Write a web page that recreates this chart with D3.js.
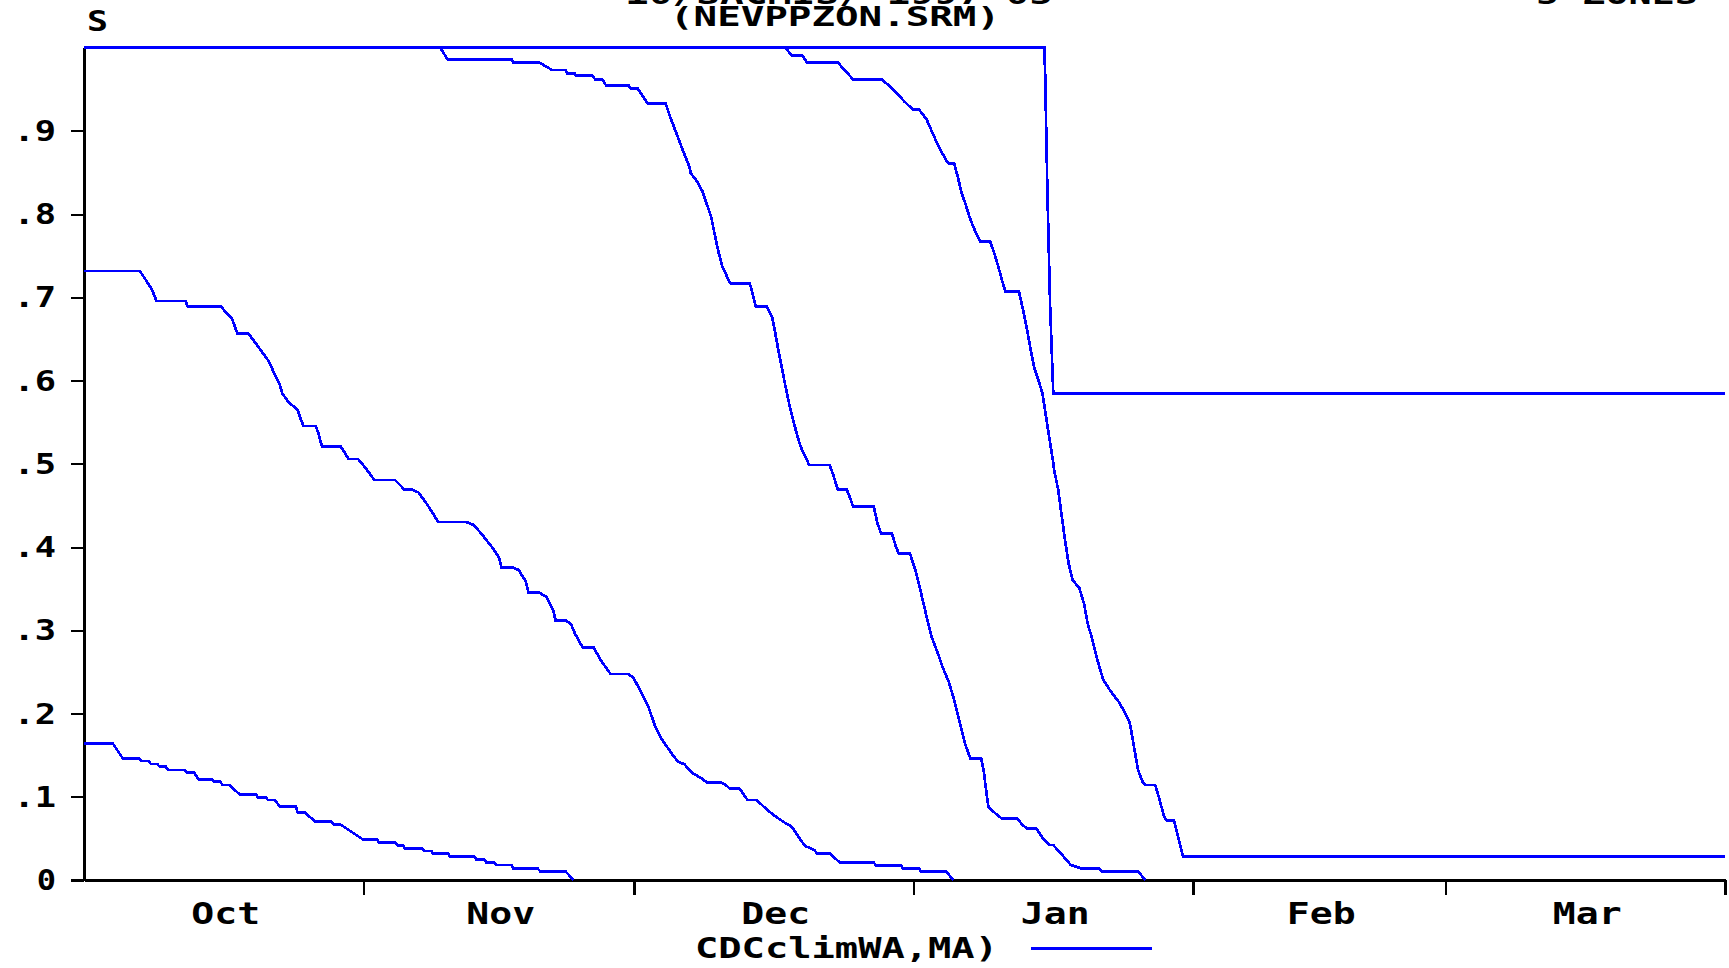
<!DOCTYPE html>
<html>
<head>
<meta charset="utf-8">
<script src="https://cdn.jsdelivr.net/npm/d3@7"></script>
<style>
  html, body { margin: 0; padding: 0; background: #fff; overflow: hidden; }
  text { font-family: "DejaVu Sans Mono", "Liberation Mono", monospace; font-weight: bold; fill: #000; }
</style>
</head>
<body>
<script>
// ---------- data (day offset from 1 Oct 1997, probability) ----------
const seriesA = [[0,0.164],[3.2,0.164],[4.3,0.146],[6.1,0.146],[6.4,0.143],[7.2,0.143],[7.4,0.1395],[8.1,0.1395],[8.4,0.136],[9.1,0.136],[9.3,0.132],[11.2,0.132],[11.4,0.129],[12.2,0.129],[12.7,0.121],[14.2,0.121],[14.4,0.118],[15.1,0.118],[15.4,0.114],[16.1,0.114],[17.25,0.103],[19.1,0.103],[19.3,0.099],[20.2,0.099],[20.4,0.096],[21.2,0.096],[21.7,0.088],[23.5,0.088],[23.7,0.081],[24.5,0.081],[25.6,0.0705],[27.4,0.0705],[27.7,0.067],[28.4,0.067],[30.9,0.049],[32.5,0.049],[32.7,0.045],[34.5,0.045],[34.8,0.0416],[35.4,0.0416],[35.6,0.038],[37.5,0.038],[37.7,0.035],[38.5,0.035],[38.7,0.032],[40.4,0.032],[40.6,0.028],[43.3,0.028],[43.5,0.025],[44.4,0.025],[44.6,0.021],[45.5,0.021],[45.7,0.018],[47.4,0.018],[47.6,0.014],[50.3,0.014],[50.6,0.0104],[53.4,0.0104],[54.3,0]];

const seriesB = [[0,0.7315],[6.2,0.7315],[6.9,0.72],[7.5,0.71],[8.05,0.6955],[11.28,0.6955],[11.5,0.6887],[15.2,0.6887],[15.9,0.68],[16.4,0.675],[17.0,0.6567],[18.2,0.6567],[18.5,0.6527],[20.4,0.6246],[21.7,0.5954],[22.0,0.5845],[22.7,0.5738],[23.7,0.5646],[24.0,0.5545],[24.35,0.5453],[25.7,0.5453],[26.0,0.5365],[26.4,0.5205],[28.5,0.5205],[29.35,0.5057],[30.4,0.5057],[31.25,0.4945],[32.2,0.4805],[34.5,0.4805],[35.1,0.474],[35.5,0.469],[36.4,0.469],[37.1,0.4655],[38.1,0.4505],[39.3,0.43],[42.4,0.43],[43.2,0.4265],[44.0,0.417],[45.2,0.4005],[46.0,0.388],[46.3,0.3756],[47.5,0.3756],[48.2,0.3725],[49.0,0.3587],[49.3,0.345],[50.5,0.345],[51.3,0.34],[52.0,0.3253],[52.3,0.312],[53.4,0.312],[54.0,0.3077],[54.45,0.296],[55.3,0.2795],[56.5,0.2795],[57.4,0.2625],[58.4,0.2475],[60.4,0.2475],[61.0,0.242],[61.7,0.227],[62.6,0.208],[63.3,0.186],[63.9,0.172],[64.6,0.161],[65.3,0.150],[65.9,0.142],[66.6,0.139],[67.4,0.129],[68.5,0.122],[69.1,0.117],[70.7,0.117],[71.3,0.113],[71.6,0.110],[72.7,0.110],[73.6,0.096],[74.6,0.096],[75.7,0.085],[76.6,0.077],[77.7,0.069],[78.5,0.064],[79.3,0.051],[79.95,0.041],[81.0,0.036],[81.3,0.032],[82.7,0.032],[83.8,0.0212],[87.6,0.0212],[87.8,0.0176],[90.6,0.0176],[90.8,0.014],[92.6,0.014],[92.8,0.0104],[95.6,0.0104],[96.4,0]];

const seriesC = [[0,1],[39.5,1],[40.3,0.986],[47.4,0.986],[47.6,0.982],[50.5,0.982],[51.9,0.973],[53.4,0.973],[53.6,0.969],[54.4,0.969],[54.6,0.966],[56.4,0.966],[56.7,0.9617],[57.5,0.9617],[57.9,0.9545],[60.4,0.9545],[60.6,0.951],[61.4,0.951],[62.5,0.933],[64.5,0.933],[65.0,0.917],[65.7,0.897],[66.4,0.877],[67.1,0.858],[67.3,0.849],[68.0,0.839],[68.6,0.827],[69.1,0.811],[69.55,0.797],[70.0,0.773],[70.4,0.753],[70.8,0.737],[71.4,0.7227],[71.7,0.7167],[73.8,0.7167],[74.0,0.711],[74.5,0.689],[75.7,0.689],[76.3,0.677],[76.6,0.661],[77.0,0.637],[77.4,0.615],[77.8,0.593],[78.25,0.570],[78.7,0.5505],[79.1,0.534],[79.5,0.52],[80.2,0.5045],[80.4,0.4985],[82.7,0.4985],[83.1,0.4865],[83.6,0.469],[84.6,0.469],[85.05,0.4565],[85.3,0.4485],[87.6,0.4485],[88.0,0.4285],[88.4,0.4164],[89.6,0.4164],[90.05,0.4004],[90.35,0.3924],[91.6,0.3924],[92.2,0.3724],[92.8,0.3463],[93.45,0.3163],[94.0,0.2923],[94.7,0.2723],[95.2,0.2563],[95.9,0.2382],[96.4,0.2202],[97.05,0.1922],[97.7,0.1642],[98.3,0.1461],[99.5,0.1461],[99.8,0.1301],[100.0,0.1121],[100.3,0.0881],[100.75,0.0833],[101.4,0.0769],[101.8,0.074],[103.5,0.074],[104.1,0.066],[104.6,0.062],[105.6,0.062],[106.35,0.05],[107.1,0.042],[107.5,0.042],[108.5,0.030],[109.45,0.018],[110.6,0.014],[112.6,0.014],[112.85,0.0104],[116.9,0.0104],[117.7,0]];

const seriesD = [[0,1],[77.8,1],[78.5,0.99],[79.7,0.99],[80.2,0.982],[83.6,0.982],[85.3,0.9617],[88.5,0.9617],[89.8,0.949],[91.0,0.935],[91.9,0.9257],[92.6,0.9257],[93.45,0.9137],[94.05,0.8988],[94.7,0.8829],[95.6,0.8649],[95.9,0.861],[96.5,0.861],[96.9,0.845],[97.35,0.8248],[97.8,0.8108],[98.2,0.7968],[98.7,0.7828],[99.4,0.767],[100.5,0.767],[100.95,0.753],[101.4,0.737],[101.8,0.721],[102.2,0.7067],[103.7,0.7067],[104.15,0.6846],[104.6,0.6606],[105.0,0.6366],[105.4,0.6146],[105.85,0.6006],[106.3,0.5845],[106.7,0.5565],[107.1,0.5285],[107.45,0.5045],[107.6,0.4925],[108.05,0.4685],[108.4,0.4405],[108.8,0.4084],[109.2,0.3804],[109.65,0.3604],[110.4,0.3504],[110.9,0.3324],[111.35,0.3063],[111.75,0.2923],[112.2,0.2723],[112.6,0.2563],[113.05,0.2403],[113.9,0.2262],[114.75,0.2142],[115.5,0.2002],[116.0,0.1882],[116.45,0.1602],[116.9,0.1321],[117.4,0.1181],[117.7,0.1141],[118.8,0.1141],[119.2,0.0999],[119.8,0.0759],[120.1,0.0713],[120.9,0.0713],[121.3,0.0541],[121.75,0.0341],[121.9,0.028],[182,0.028]];

const seriesE = [[0,1],[106.5,1],[106.6,0.968],[106.85,0.827],[107.15,0.69],[107.5,0.5846],[182,0.5846]];

const allSeries = [seriesA, seriesB, seriesC, seriesD, seriesE];

const monthLabels = ["Oct","Nov","Dec","Jan","Feb","Mar"];
const yTickValues = [0, 0.1, 0.2, 0.3, 0.4, 0.5, 0.6, 0.7, 0.8, 0.9];
const yTickLabels = ["0", ".1", ".2", ".3", ".4", ".5", ".6", ".7", ".8", ".9"];
const titleLine1 = "10/SACMIS/ 1997 05";
const titleLine2 = "(NEVPPZON.SRM)";
const titleRight = "5 ZONES";
const yUnitLabel = "S";
const legendLabel = "CDCclimWA,MA)";

// ---------- drawing ----------
const W = 1729, H = 968;
const START = Date.UTC(1997, 9, 1);
const toDate = d => new Date(START + d * 864e5);
const BLUE = "#0000ff";

const svg = d3.select("body").append("svg").attr("width", W).attr("height", H);
svg.append("rect").attr("width", W).attr("height", H).attr("fill", "#fff");

const x = d3.scaleUtc()
  .domain([new Date(Date.UTC(1997, 9, 1)), new Date(Date.UTC(1998, 3, 1))])
  .range([84, 1725]);
const y = d3.scaleLinear().domain([0, 1]).range([880, 47.5]);

function addText(g, str, px, py, anchor, size, len) {
  return g.append("text")
    .attr("x", px).attr("y", py)
    .attr("text-anchor", anchor || "start")
    .attr("font-size", size || 30)
    .attr("textLength", len || (str.length * 23.3 - 4))
    .attr("lengthAdjust", "spacingAndGlyphs")
    .text(str);
}

// y axis
const yAxis = d3.axisLeft(y).tickValues(yTickValues).tickSize(13).tickSizeOuter(0).tickFormat("");
const gy = svg.append("g").attr("transform", "translate(84,0)").call(yAxis);
gy.select(".domain").attr("stroke", "#000").attr("stroke-width", 3).attr("shape-rendering", "crispEdges");
gy.selectAll(".tick line").attr("stroke", "#000").attr("stroke-width", (d) => d === 0 ? 3 : 2).attr("shape-rendering", "crispEdges");

// y labels
yTickValues.forEach((v, i) => {
  addText(svg, yTickLabels[i], 56, y(v) + 10, "end", 28);
});

// x axis
const monthStarts = d3.utcMonth.range(new Date(Date.UTC(1997, 10, 1)), new Date(Date.UTC(1998, 3, 2)));
const xAxis = d3.axisBottom(x).tickValues(monthStarts).tickSize(15).tickSizeOuter(0).tickFormat("");
const gx = svg.append("g").attr("transform", "translate(0,880)").call(xAxis);
gx.select(".domain").attr("stroke", "#000").attr("stroke-width", 3).attr("shape-rendering", "crispEdges");
gx.selectAll(".tick line").attr("stroke", "#000").attr("stroke-width", 2.5).attr("shape-rendering", "crispEdges");

// month labels centred in their months
const monthBounds = d3.utcMonth.range(new Date(Date.UTC(1997, 9, 1)), new Date(Date.UTC(1998, 3, 1)));
monthBounds.forEach((m, i) => {
  const next = d3.utcMonth.offset(m, 1);
  const cx = (x(m) + x(next)) / 2 + 2;
  addText(svg, monthLabels[i], cx, 924, "middle", 30, 3 * 23.6 - 2);
});

// curves
const line = d3.line().x(d => x(toDate(d[0]))).y(d => y(d[1]));
allSeries.forEach(s => {
  svg.append("path")
    .attr("d", line(s))
    .attr("fill", "none")
    .attr("stroke", BLUE)
    .attr("stroke-width", 2.7)
    .attr("stroke-linejoin", "miter")
    .attr("shape-rendering", "crispEdges");
});

// titles (top line is cut by the top edge, as in the original)
addText(svg, yUnitLabel, 87, 31, "start", 28, 21);
addText(svg, titleLine1, 625, 4, "start", 26, 428);
addText(svg, titleLine2, 670, 26, "start", 26, 330);
addText(svg, titleRight, 1536, 4, "start", 26, 162);

// legend
addText(svg, legendLabel, 695, 958, "start", 29, 303);
svg.append("line")
  .attr("x1", 1031).attr("x2", 1152).attr("y1", 948).attr("y2", 948)
  .attr("stroke", BLUE).attr("stroke-width", 3).attr("shape-rendering", "crispEdges");
</script>
</body>
</html>
